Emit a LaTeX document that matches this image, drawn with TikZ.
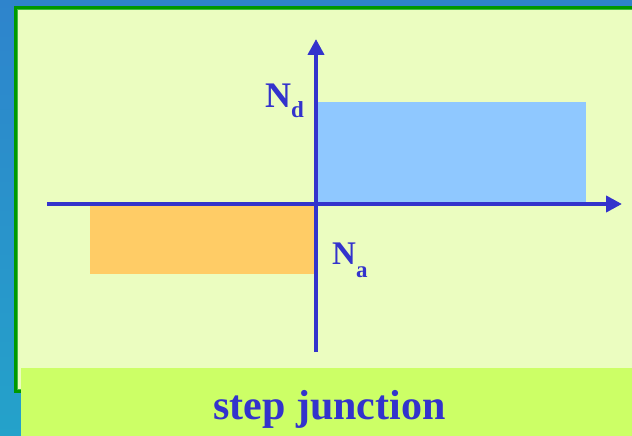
\documentclass[tikz,border=0pt]{standalone}
\usepackage{fontspec}
\setmainfont{Liberation Serif}
\usetikzlibrary{arrows.meta}
\definecolor{bgtop}{HTML}{2E84CC}
\definecolor{bgbot}{HTML}{24A2CA}
\definecolor{frame}{HTML}{009900}
\definecolor{frameinner}{HTML}{44BB44}
\definecolor{panel}{HTML}{EBFDC0}
\definecolor{capbar}{HTML}{CCFF66}
\definecolor{ink}{HTML}{3333CC}
\definecolor{nblue}{HTML}{8FC8FF}
\definecolor{porange}{HTML}{FFCC66}
\tikzset{
  axis/.style={draw=ink, line width=4.5pt, -{Triangle[width=16pt,length=16pt]}},
  lbl/.style={inner sep=0pt, anchor=base west, text=ink, font=\bfseries},
}
\begin{document}
\begin{tikzpicture}[x=1pt,y=-1pt]
\useasboundingbox (0,0) rectangle (632,436);
\shade[top color=bgtop, bottom color=bgbot] (0,0) rectangle (632,436);
% frame and panel
\fill[frame] (14,6) rectangle (640,393);
\fill[frameinner] (17,9) rectangle (640,390);
\fill[panel] (18,10.5) rectangle (640,389);
% caption bar
\fill[capbar] (21,368) rectangle (632,436);
% regions
\fill[nblue] (317,102) rectangle (586,202);
\fill[porange] (90,206) rectangle (315,274);
% axes
\coordinate (xs) at (47,204);
\coordinate (xe) at (622,204);
\coordinate (ys) at (316,352);
\coordinate (ye) at (316,39);
\draw[axis] (xs) -- (xe);
\draw[axis] (ys) -- (ye);
% labels
\node[lbl] (nd) at (265,107) {\fontsize{36}{36}\selectfont N\raisebox{-10pt}{\fontsize{23}{23}\selectfont d}};
\node[lbl] (na) at (332,264) {\fontsize{33}{33}\selectfont N\raisebox{-13pt}{\fontsize{23}{23}\selectfont a}};
\node[inner sep=0pt, anchor=base, text=ink, font=\bfseries\fontsize{42}{42}\selectfont] (cap) at (329.5,419) {step junction};
\end{tikzpicture}
\end{document}
